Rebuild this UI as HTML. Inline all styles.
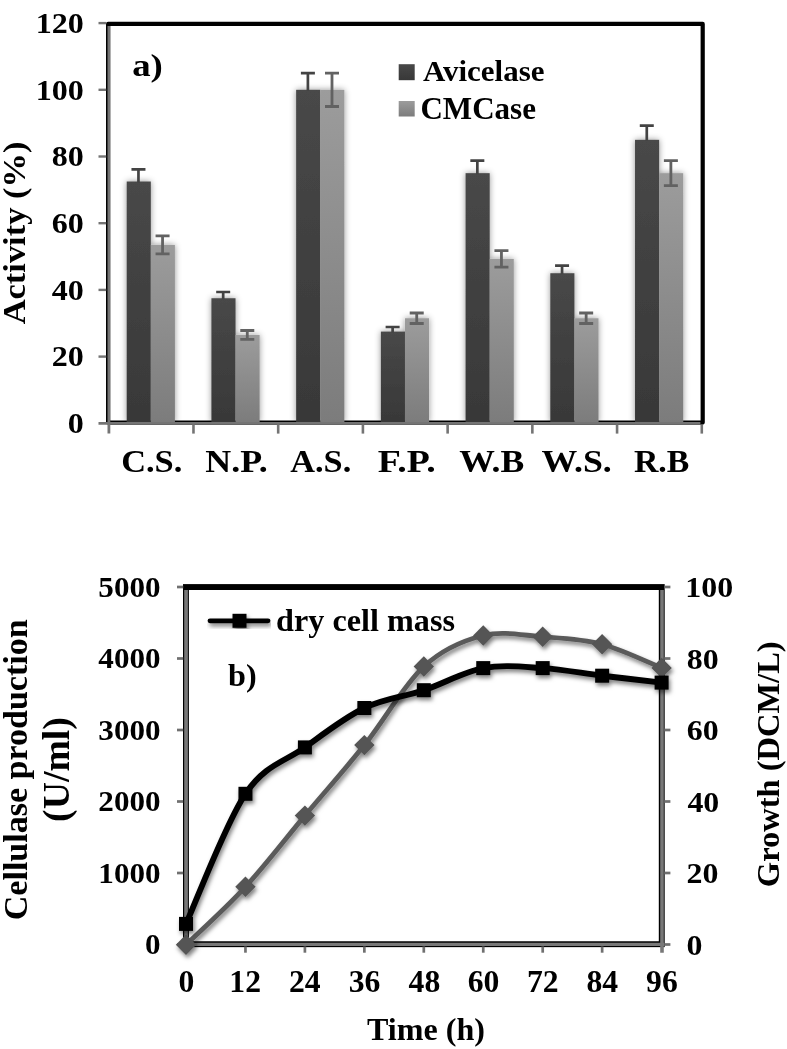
<!DOCTYPE html>
<html><head><meta charset="utf-8"><title>Chart</title>
<style>
html,body{margin:0;padding:0;background:#fff;}
body{width:787px;height:1049px;overflow:hidden;font-family:"Liberation Serif",serif;}
svg{display:block;filter:blur(0.45px)}
.t{font-family:"Liberation Serif",serif;font-weight:bold;fill:#000;}
</style></head><body>
<svg width="787" height="1049" viewBox="0 0 787 1049">
<defs>
<linearGradient id="gd" x1="0" y1="0" x2="0" y2="1"><stop offset="0" stop-color="#484848"/><stop offset="1" stop-color="#383838"/></linearGradient>
<linearGradient id="gl" x1="0" y1="0" x2="0" y2="1"><stop offset="0" stop-color="#9c9c9c"/><stop offset="1" stop-color="#7c7c7c"/></linearGradient>
<filter id="glow" x="-5%" y="-5%" width="110%" height="110%"><feDropShadow dx="0" dy="0" stdDeviation="3.2" flood-color="#000" flood-opacity="0.42"/></filter>
<filter id="ds" x="-5%" y="-5%" width="110%" height="110%"><feDropShadow dx="1.6" dy="3" stdDeviation="2.2" flood-color="#000" flood-opacity="0.5"/></filter>
<clipPath id="cpbars"><rect x="100" y="0" width="610" height="422.4"/></clipPath>
</defs>
<rect width="787" height="1049" fill="#fff"/>
<g id="top">
<rect x="108.1" y="23.9" width="594.6" height="398.7" fill="none" stroke="#000" stroke-width="4.2" stroke-linejoin="round"/>
<g clip-path="url(#cpbars)"><g filter="url(#glow)">
<rect x="126.71" y="181.51" width="24.10" height="240.89" fill="url(#gd)"/>
<rect x="150.81" y="244.88" width="24.10" height="177.52" fill="url(#gl)"/>
<rect x="211.43" y="298.24" width="24.10" height="124.16" fill="url(#gd)"/>
<rect x="235.53" y="334.92" width="24.10" height="87.48" fill="url(#gl)"/>
<rect x="296.15" y="89.80" width="24.10" height="332.60" fill="url(#gd)"/>
<rect x="320.25" y="89.80" width="24.10" height="332.60" fill="url(#gl)"/>
<rect x="380.87" y="331.59" width="24.10" height="90.81" fill="url(#gd)"/>
<rect x="404.97" y="318.25" width="24.10" height="104.15" fill="url(#gl)"/>
<rect x="465.59" y="173.18" width="24.10" height="249.22" fill="url(#gd)"/>
<rect x="489.69" y="258.88" width="24.10" height="163.52" fill="url(#gl)"/>
<rect x="550.31" y="273.23" width="24.10" height="149.17" fill="url(#gd)"/>
<rect x="574.41" y="318.25" width="24.10" height="104.15" fill="url(#gl)"/>
<rect x="635.03" y="139.82" width="24.10" height="282.57" fill="url(#gd)"/>
<rect x="659.13" y="173.18" width="24.10" height="249.22" fill="url(#gl)"/>
</g></g>
<g stroke="#434343" stroke-width="2.7" fill="none"><path d="M138.46 169.42V182.51M131.46 169.42h14"/></g>
<g stroke="#626262" stroke-width="2.8" fill="none"><path d="M162.56 235.96V253.80M155.56 235.96h14M155.56 253.80h14"/></g>
<g stroke="#434343" stroke-width="2.7" fill="none"><path d="M223.18 291.98V299.24M216.18 291.98h14"/></g>
<g stroke="#626262" stroke-width="2.8" fill="none"><path d="M247.28 330.50V339.34M240.28 330.50h14M240.28 339.34h14"/></g>
<g stroke="#434343" stroke-width="2.7" fill="none"><path d="M307.90 73.12V90.80M300.90 73.12h14"/></g>
<g stroke="#626262" stroke-width="2.8" fill="none"><path d="M332.00 73.12V106.48M325.00 73.12h14M325.00 106.48h14"/></g>
<g stroke="#434343" stroke-width="2.7" fill="none"><path d="M392.62 327.00V332.59M385.62 327.00h14"/></g>
<g stroke="#626262" stroke-width="2.8" fill="none"><path d="M416.72 312.99V323.50M409.72 312.99h14M409.72 323.50h14"/></g>
<g stroke="#434343" stroke-width="2.7" fill="none"><path d="M477.34 160.67V174.18M470.34 160.67h14"/></g>
<g stroke="#626262" stroke-width="2.8" fill="none"><path d="M501.44 250.66V267.11M494.44 250.66h14M494.44 267.11h14"/></g>
<g stroke="#434343" stroke-width="2.7" fill="none"><path d="M562.06 265.72V274.23M555.06 265.72h14"/></g>
<g stroke="#626262" stroke-width="2.8" fill="none"><path d="M586.16 312.99V323.50M579.16 312.99h14M579.16 323.50h14"/></g>
<g stroke="#434343" stroke-width="2.7" fill="none"><path d="M646.78 125.65V140.82M639.78 125.65h14"/></g>
<g stroke="#626262" stroke-width="2.8" fill="none"><path d="M670.88 160.67V185.68M663.88 160.67h14M663.88 185.68h14"/></g>
<g stroke="#747474" fill="none">
<path d="M108.9 25.9V433.6" stroke-width="2.8"/>
<path d="M98.5 423.4H700.4" stroke-width="2.8"/>
<path d="M98.5 356.60H106.2" stroke-width="2.4"/>
<path d="M98.5 289.90H106.2" stroke-width="2.4"/>
<path d="M98.5 223.20H106.2" stroke-width="2.4"/>
<path d="M98.5 156.50H106.2" stroke-width="2.4"/>
<path d="M98.5 89.80H106.2" stroke-width="2.4"/>
<path d="M98.5 23.10H106.2" stroke-width="2.4"/>
<path d="M193.47 424.5V433.6" stroke-width="2.6"/>
<path d="M278.19 424.5V433.6" stroke-width="2.6"/>
<path d="M362.91 424.5V433.6" stroke-width="2.6"/>
<path d="M447.63 424.5V433.6" stroke-width="2.6"/>
<path d="M532.35 424.5V433.6" stroke-width="2.6"/>
<path d="M617.07 424.5V433.6" stroke-width="2.6"/>
<path d="M701.79 424.5V433.6" stroke-width="2.6"/>
</g>
<text class="t" font-size="30.10" transform="translate(67.87,433.06) scale(1.0650,1)">0</text>
<text class="t" font-size="30.10" transform="translate(51.85,366.36) scale(1.0650,1)">20</text>
<text class="t" font-size="30.10" transform="translate(51.85,299.66) scale(1.0650,1)">40</text>
<text class="t" font-size="30.10" transform="translate(51.85,232.96) scale(1.0650,1)">60</text>
<text class="t" font-size="30.10" transform="translate(51.85,166.26) scale(1.0650,1)">80</text>
<text class="t" font-size="30.10" transform="translate(35.82,99.56) scale(1.0650,1)">100</text>
<text class="t" font-size="30.10" transform="translate(35.82,32.86) scale(1.0650,1)">120</text>
<text class="t" font-size="31.59" transform="translate(121.18,471.93) scale(1.0895,1)" >C.S.</text>
<text class="t" font-size="31.94" transform="translate(205.28,471.92) scale(1.1236,1)" >N.P.</text>
<text class="t" font-size="31.59" transform="translate(290.26,471.93) scale(1.0862,1)" >A.S.</text>
<text class="t" font-size="31.94" transform="translate(377.64,471.92) scale(1.1844,1)" >F.P.</text>
<text class="t" font-size="31.94" transform="translate(459.16,471.92) scale(1.1171,1)" >W.B</text>
<text class="t" font-size="31.59" transform="translate(541.46,471.93) scale(1.1334,1)" >W.S.</text>
<text class="t" font-size="31.94" transform="translate(633.91,471.92) scale(1.0600,1)" >R.B</text>
<text class="t" font-size="32.53" transform="translate(24.61,324.34) rotate(-90) scale(1.0599,1)" >Activity (%)</text>
<text class="t" font-size="32.18" transform="translate(132.20,75.76) scale(1.1447,1)" >a)</text>
<rect x="398.7" y="64.2" width="16" height="16" fill="url(#gd)"/>
<rect x="398.7" y="101" width="16" height="15.5" fill="url(#gl)"/>
<text class="t" font-size="30.07" transform="translate(422.89,81.30) scale(1.0308,1)" >Avicelase</text>
<text class="t" font-size="32.12" transform="translate(420.45,118.68) scale(0.9669,1)" >CMCase</text>
</g>
<g id="bot">
<rect x="185.95" y="587.05" width="475.8" height="357.15" fill="none" stroke="#000" stroke-width="5.9"/>
<g stroke="#787878" fill="none">
<path d="M186.05 590V952.7" stroke-width="3.7"/>
<path d="M662.0 590V952.7" stroke-width="3.6"/>
<path d="M184.2 944.4H664" stroke-width="3.2"/>
</g>
<g stroke="#707070" fill="none">
<path d="M177 944.50H183.2" stroke-width="2.7"/>
<path d="M664.4 944.50H670.4" stroke-width="2.7"/>
<path d="M177 873.00H183.2" stroke-width="2.7"/>
<path d="M664.4 873.00H670.4" stroke-width="2.7"/>
<path d="M177 801.50H183.2" stroke-width="2.7"/>
<path d="M664.4 801.50H670.4" stroke-width="2.7"/>
<path d="M177 730.00H183.2" stroke-width="2.7"/>
<path d="M664.4 730.00H670.4" stroke-width="2.7"/>
<path d="M177 658.50H183.2" stroke-width="2.7"/>
<path d="M664.4 658.50H670.4" stroke-width="2.7"/>
<path d="M177 587.00H183.2" stroke-width="2.7"/>
<path d="M664.4 587.00H670.4" stroke-width="2.7"/>
<path d="M245.45 946.5V952.7" stroke-width="2.7"/>
<path d="M304.90 946.5V952.7" stroke-width="2.7"/>
<path d="M364.35 946.5V952.7" stroke-width="2.7"/>
<path d="M423.80 946.5V952.7" stroke-width="2.7"/>
<path d="M483.25 946.5V952.7" stroke-width="2.7"/>
<path d="M542.70 946.5V952.7" stroke-width="2.7"/>
<path d="M602.15 946.5V952.7" stroke-width="2.7"/>
</g>
<text class="t" font-size="30.50" transform="translate(145.01,954.19) scale(1.0200,1)">0</text>
<text class="t" font-size="30.40" transform="translate(686.60,954.66) scale(1.0500,1)">0</text>
<text class="t" font-size="30.50" transform="translate(98.35,882.69) scale(1.0200,1)">1000</text>
<text class="t" font-size="30.40" transform="translate(686.44,883.16) scale(1.0500,1)">20</text>
<text class="t" font-size="30.50" transform="translate(98.35,811.19) scale(1.0200,1)">2000</text>
<text class="t" font-size="30.40" transform="translate(687.40,811.66) scale(1.0500,1)">40</text>
<text class="t" font-size="30.50" transform="translate(98.35,739.69) scale(1.0200,1)">3000</text>
<text class="t" font-size="30.40" transform="translate(686.68,740.16) scale(1.0500,1)">60</text>
<text class="t" font-size="30.50" transform="translate(98.35,668.19) scale(1.0200,1)">4000</text>
<text class="t" font-size="30.40" transform="translate(686.76,668.66) scale(1.0500,1)">80</text>
<text class="t" font-size="30.50" transform="translate(98.35,596.69) scale(1.0200,1)">5000</text>
<text class="t" font-size="30.40" transform="translate(685.25,597.16) scale(1.0500,1)">100</text>
<text class="t" font-size="31.20" transform="translate(178.38,991.82) scale(1.0150,1)">0</text>
<text class="t" font-size="31.20" transform="translate(229.32,991.94) scale(1.0150,1)">12</text>
<text class="t" font-size="31.20" transform="translate(288.97,991.94) scale(1.0150,1)">24</text>
<text class="t" font-size="31.20" transform="translate(348.70,991.78) scale(1.0150,1)">36</text>
<text class="t" font-size="31.20" transform="translate(408.58,991.82) scale(1.0150,1)">48</text>
<text class="t" font-size="31.20" transform="translate(467.76,991.82) scale(1.0150,1)">60</text>
<text class="t" font-size="31.20" transform="translate(526.93,991.94) scale(1.0150,1)">72</text>
<text class="t" font-size="31.20" transform="translate(586.38,991.82) scale(1.0150,1)">84</text>
<text class="t" font-size="31.20" transform="translate(646.11,991.78) scale(1.0150,1)">96</text>
<text class="t" font-size="30.74" transform="translate(366.92,1040.17) scale(1.0448,1)" >Time (h)</text>
<text class="t" font-size="32.73" transform="translate(26.55,920.20) rotate(-90) scale(1.0398,1)" >Cellulase production</text>
<text class="t" font-size="37.13" transform="translate(69.41,821.90) rotate(-90) scale(1.0171,1)" >(U/ml)</text>
<text class="t" font-size="31.52" transform="translate(778.70,887.13) rotate(-90) scale(1.0314,1)" >Growth (DCM/L)</text>
<text class="t" font-size="32.51" transform="translate(228.00,685.89) scale(0.9903,1)" >b)</text>
<g filter="url(#ds)">
<path d="M210 620.8H268" stroke="#000" stroke-width="4.8" stroke-linecap="round"/>
<rect x="232.5" y="613.8" width="14" height="14" fill="#000"/>
</g>
<text class="t" font-size="32.53" transform="translate(276.11,630.61) scale(0.9901,1)" >dry cell mass</text>
<g filter="url(#ds)">
<path d="M186.00 944.70C195.91 935.05 225.63 908.32 245.45 886.80C265.27 865.28 285.08 839.22 304.90 815.60C324.72 791.98 344.53 769.95 364.35 745.10C384.17 720.25 403.98 684.77 423.80 666.50C443.62 648.23 463.43 640.45 483.25 635.50C503.07 630.55 522.88 635.35 542.70 636.80C562.52 638.25 582.33 639.02 602.15 644.20C621.97 649.38 651.69 663.95 661.60 667.90" fill="none" stroke="#5a5a5a" stroke-width="4.8" stroke-linecap="round" stroke-linejoin="round"/>
<rect x="178.80" y="937.50" width="14.4" height="14.4" fill="#545454" transform="rotate(45 186.00 944.70)"/>
<rect x="238.25" y="879.60" width="14.4" height="14.4" fill="#545454" transform="rotate(45 245.45 886.80)"/>
<rect x="297.70" y="808.40" width="14.4" height="14.4" fill="#545454" transform="rotate(45 304.90 815.60)"/>
<rect x="357.15" y="737.90" width="14.4" height="14.4" fill="#545454" transform="rotate(45 364.35 745.10)"/>
<rect x="416.60" y="659.30" width="14.4" height="14.4" fill="#545454" transform="rotate(45 423.80 666.50)"/>
<rect x="476.05" y="628.30" width="14.4" height="14.4" fill="#545454" transform="rotate(45 483.25 635.50)"/>
<rect x="535.50" y="629.60" width="14.4" height="14.4" fill="#545454" transform="rotate(45 542.70 636.80)"/>
<rect x="594.95" y="637.00" width="14.4" height="14.4" fill="#545454" transform="rotate(45 602.15 644.20)"/>
<rect x="654.40" y="660.70" width="14.4" height="14.4" fill="#545454" transform="rotate(45 661.60 667.90)"/>
</g>
<g filter="url(#ds)">
<path d="M186.00 923.90C195.91 902.22 225.63 823.22 245.45 793.80C265.27 764.38 285.08 761.70 304.90 747.40C324.72 733.10 344.53 717.53 364.35 708.00C384.17 698.47 403.98 696.85 423.80 690.20C443.62 683.55 463.43 671.78 483.25 668.10C503.07 664.42 522.88 666.83 542.70 668.10C562.52 669.37 582.33 673.28 602.15 675.70C621.97 678.12 651.69 681.45 661.60 682.60" fill="none" stroke="#000" stroke-width="5.9" stroke-linecap="round" stroke-linejoin="round"/>
<rect x="179.00" y="916.90" width="14" height="14" fill="#000"/>
<rect x="238.45" y="786.80" width="14" height="14" fill="#000"/>
<rect x="297.90" y="740.40" width="14" height="14" fill="#000"/>
<rect x="357.35" y="701.00" width="14" height="14" fill="#000"/>
<rect x="416.80" y="683.20" width="14" height="14" fill="#000"/>
<rect x="476.25" y="661.10" width="14" height="14" fill="#000"/>
<rect x="535.70" y="661.10" width="14" height="14" fill="#000"/>
<rect x="595.15" y="668.70" width="14" height="14" fill="#000"/>
<rect x="654.60" y="675.60" width="14" height="14" fill="#000"/>
</g>
</g>
</svg>
</body></html>
